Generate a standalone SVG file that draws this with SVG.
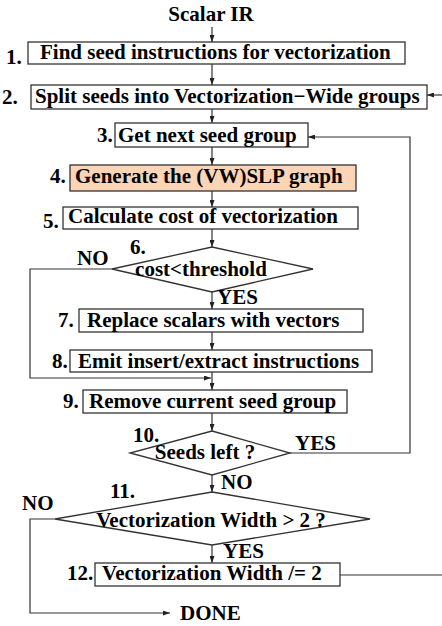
<svg xmlns="http://www.w3.org/2000/svg" width="442" height="626" viewBox="0 0 442 626">
  <style>
    text { font-family: "Liberation Serif", "Times New Roman", serif; font-weight: bold; font-size: 21px; fill: #000; }
    .box { fill: #fff; stroke: #333; stroke-width: 1.3; }
    .hl { fill: #fbd5b5; }
    .line { fill: none; stroke: #333; stroke-width: 1.2; }
    .mid { text-anchor: middle; }
  </style>
  <defs>
    <marker id="arrow" viewBox="0 0 7 5" refX="7" refY="2.5" markerWidth="7" markerHeight="5" markerUnits="userSpaceOnUse" orient="auto">
      <path d="M0,0 L7,2.5 L0,5 Z" fill="#222"/>
    </marker>
  </defs>

  <g id="connectors">
    <line class="line" x1="212" y1="27" x2="212" y2="42" marker-end="url(#arrow)"/>
    <line class="line" x1="212" y1="64" x2="212" y2="85" marker-end="url(#arrow)"/>
    <line class="line" x1="442" y1="95" x2="427" y2="95" marker-end="url(#arrow)"/>
    <line class="line" x1="212" y1="109" x2="212" y2="123" marker-end="url(#arrow)"/>
    <line class="line" x1="212" y1="147" x2="212" y2="165" marker-end="url(#arrow)"/>
    <line class="line" x1="212" y1="191" x2="212" y2="207" marker-end="url(#arrow)"/>
    <line class="line" x1="212" y1="229" x2="212" y2="247" marker-end="url(#arrow)"/>
    <line class="line" x1="212" y1="292" x2="212" y2="309" marker-end="url(#arrow)"/>
    <polyline class="line" points="112,269 30,269 30,378 211,378" marker-end="url(#arrow)"/>
    <line class="line" x1="212" y1="332" x2="212" y2="350" marker-end="url(#arrow)"/>
    <line class="line" x1="212" y1="372" x2="212" y2="390" marker-end="url(#arrow)"/>
    <line class="line" x1="212" y1="413" x2="212" y2="431" marker-end="url(#arrow)"/>
    <polyline class="line" points="290,453 410,453 410,137 308,137" marker-end="url(#arrow)"/>
    <line class="line" x1="212" y1="475" x2="212" y2="492" marker-end="url(#arrow)"/>
    <polyline class="line" points="55,519 30,519 30,613 170,613" marker-end="url(#arrow)"/>
    <line class="line" x1="212" y1="545" x2="212" y2="563" marker-end="url(#arrow)"/>
    <line class="line" x1="340" y1="575" x2="442" y2="575"/>
  </g>

  <g id="start">
    <text class="mid" x="211" y="21">Scalar IR</text>
  </g>

  <g id="n1">
    <rect class="box" x="28" y="42" width="377" height="22"/>
    <text x="40" y="59">Find seed instructions for vectorization</text>
    <text x="6" y="64">1.</text>
  </g>

  <g id="n2">
    <rect class="box" x="31" y="85" width="396" height="24"/>
    <text x="35" y="103">Split seeds into Vectorization−Wide groups</text>
    <text x="2" y="104">2.</text>
  </g>

  <g id="n3">
    <rect class="box" x="115" y="123" width="193" height="24"/>
    <text x="118" y="142">Get next seed group</text>
    <text x="97" y="142">3.</text>
  </g>

  <g id="n4">
    <rect class="box hl" x="70" y="165" width="286" height="26"/>
    <text x="75" y="183">Generate the (VW)SLP graph</text>
    <text x="50" y="183">4.</text>
  </g>

  <g id="n5">
    <rect class="box" x="63" y="207" width="295" height="22"/>
    <text x="68" y="223">Calculate cost of vectorization</text>
    <text x="43" y="228">5.</text>
  </g>

  <g id="n6">
    <polygon class="box" points="212,247 313,269 212,292 112,269"/>
    <text class="mid" x="201" y="276">cost&lt;threshold</text>
    <text x="130" y="254">6.</text>
    <text x="77" y="265">NO</text>
    <text x="217" y="304">YES</text>
  </g>

  <g id="n7">
    <rect class="box" x="79" y="309" width="284" height="23"/>
    <text x="87" y="327">Replace scalars with vectors</text>
    <text x="58" y="327">7.</text>
  </g>

  <g id="n8">
    <rect class="box" x="70" y="350" width="302" height="22"/>
    <text x="78" y="368">Emit insert/extract instructions</text>
    <text x="52" y="368">8.</text>
  </g>

  <g id="n9">
    <rect class="box" x="83" y="390" width="264" height="23"/>
    <text x="89" y="408">Remove current seed group</text>
    <text x="63" y="408">9.</text>
  </g>

  <g id="n10">
    <polygon class="box" points="212,431 290,453 212,475 130,453"/>
    <text class="mid" x="205" y="459">Seeds left ?</text>
    <text x="133" y="442">10.</text>
    <text x="295" y="450">YES</text>
    <text x="221" y="489">NO</text>
  </g>

  <g id="n11">
    <polygon class="box" points="212,492 370,519 212,545 55,519"/>
    <text class="mid" x="211" y="527">Vectorization Width &gt; 2 ?</text>
    <text x="110" y="498">11.</text>
    <text x="22" y="510">NO</text>
    <text x="223" y="558">YES</text>
  </g>

  <g id="n12">
    <rect class="box" x="95" y="563" width="245" height="23"/>
    <text x="102" y="580">Vectorization Width /= 2</text>
    <text x="67" y="580">12.</text>
  </g>

  <g id="done">
    <text x="180" y="620">DONE</text>
  </g>
</svg>
